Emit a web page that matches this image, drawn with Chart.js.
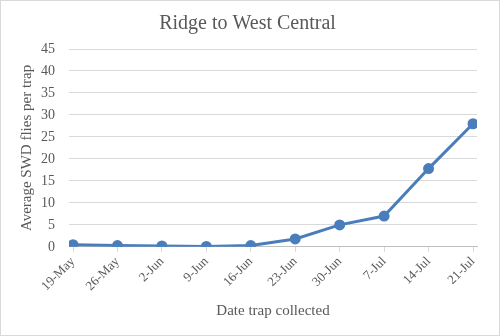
<!DOCTYPE html>
<html><head><meta charset="utf-8">
<script src="https://cdn.jsdelivr.net/npm/chart.js@4"></script>
<style>
html,body{margin:0;padding:0;background:#fff;}
#wrap{position:absolute;left:0;top:0;width:498px;height:334px;border:1px solid #d9d9d9;}
canvas{display:block;}
</style></head><body>
<div id="wrap"><canvas id="c" width="498" height="334"></canvas></div>
<script>
const categories = ["19-May","26-May","2-Jun","9-Jun","16-Jun","23-Jun","30-Jun","7-Jul","14-Jul","21-Jul"];
const values = [0.5, 0.3, 0.2, 0.1, 0.3, 1.8, 5.0, 7.0, 17.8, 28.0];
const yTicks = [0,5,10,15,20,25,30,35,40,45];
const titleText = "Ridge to West Central";
const yTitle = "Average SWD flies per trap";
const xTitle = "Date trap collected";

const FONT = "'Liberation Serif','DejaVu Serif',serif";
const GREY = "#595959";
const pts = values.map((v,i)=>({x:i,y:v}));

new Chart(document.getElementById('c'), {
  type: 'line',
  data: { datasets: [{ data: pts, borderColor:'#4a7ebb', backgroundColor:'#4a7ebb',
    borderWidth: 3, pointRadius: 4, pointHoverRadius: 4, tension: 0 }] },
  options: {
    responsive:false, animation:false,
    plugins:{ legend:{display:false}, tooltip:{enabled:false},
      title:{display:true, text:titleText, color:GREY, font:{family:FONT,size:20,weight:'normal'}, padding:{top:11,bottom:13}} },
    layout:{ padding:{left:17,right:22,top:0,bottom:11} },
    scales:{
      x:{ type:'linear', min:-0.09, max:9.09,
        afterBuildTicks:(s)=>{ s.ticks = categories.map((c,i)=>({value:i})); },
        ticks:{ callback:(v)=>categories[v], color:GREY, font:{family:FONT,size:13}, maxRotation:45, minRotation:45, padding:2, autoSkip:false },
        grid:{ drawOnChartArea:false, drawTicks:true, tickLength:5, color:'#d9d9d9' },
        border:{ color:'#bfbfbf' },
        title:{ display:true, text:xTitle, color:GREY, font:{family:FONT,size:15}, padding:{top:6} } },
      y:{ min:0, max:45,
        afterBuildTicks:(s)=>{ s.ticks = yTicks.map(v=>({value:v})); },
        afterFit:(s)=>{ s.width = 51; },
        ticks:{ color:GREY, font:{family:FONT,size:14}, padding:14 },
        grid:{ color:'#d9d9d9', drawTicks:false },
        border:{ display:false },
        title:{ display:true, text:yTitle, color:GREY, font:{family:FONT,size:15}, padding:{top:0,bottom:5} } }
    }
  }
});
</script></body></html>
